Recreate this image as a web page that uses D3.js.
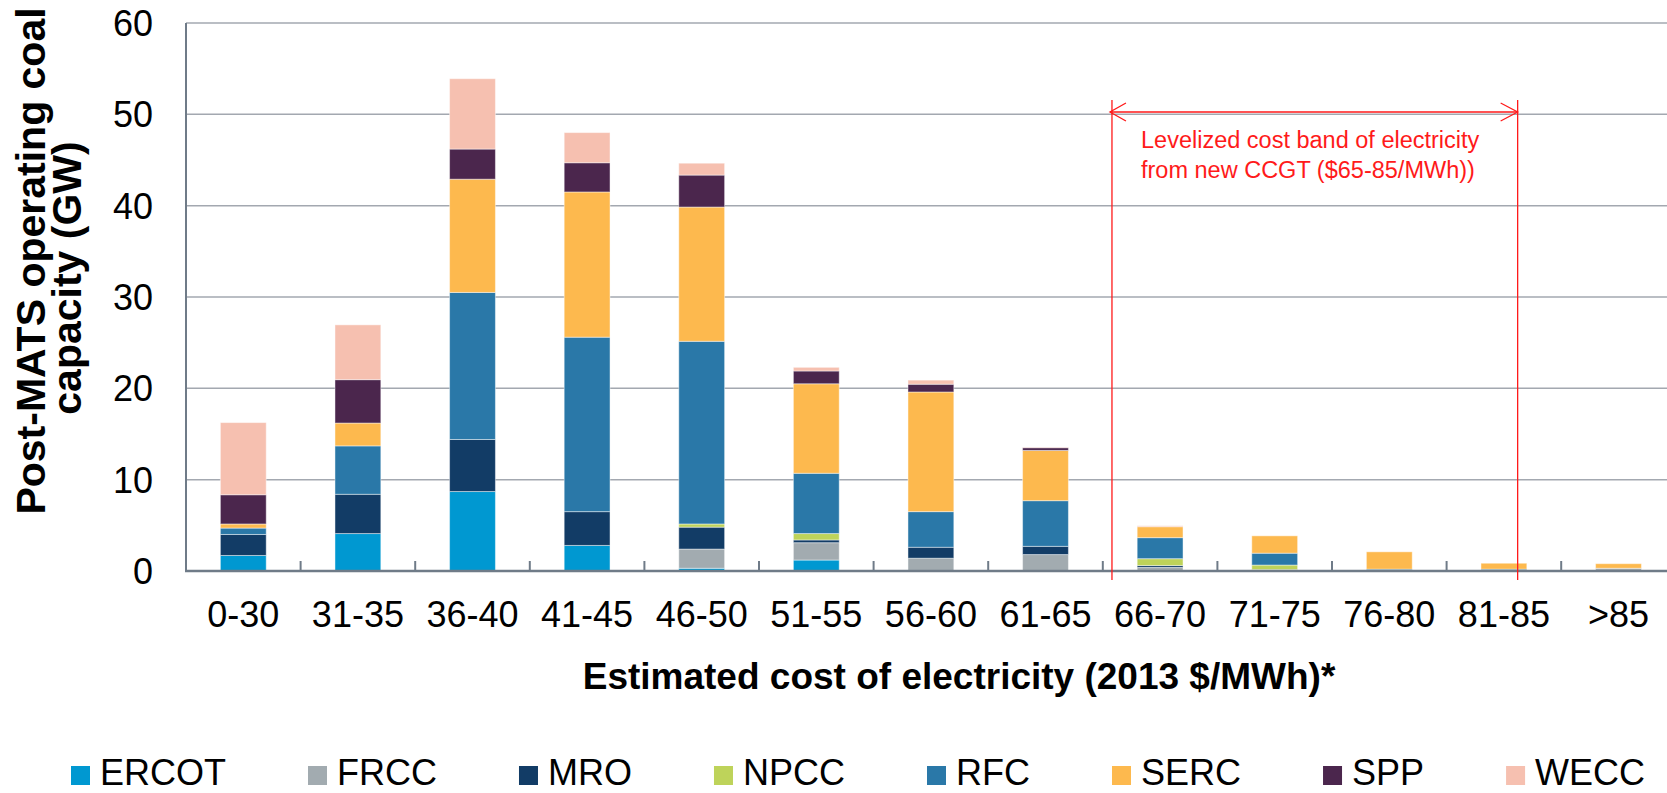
<!DOCTYPE html>
<html><head><meta charset="utf-8">
<script src="https://cdn.jsdelivr.net/npm/d3@7"></script>
<style>
html,body{margin:0;padding:0;background:#fff;}
text{font-family:"Liberation Sans",Arial,sans-serif;}
</style></head>
<body>
<svg id="chart" width="1667" height="793"></svg>
<script>
const categories = ["0-30","31-35","36-40","41-45","46-50","51-55","56-60","61-65","66-70","71-75","76-80","81-85",">85"];
const regions = ["ERCOT","FRCC","MRO","NPCC","RFC","SERC","SPP","WECC"];
const ERCOT = [1.7, 4.1, 8.7, 2.8, 0.3, 1.2, 0, 0, 0, 0, 0, 0, 0];
const FRCC  = [0, 0, 0, 0, 2.1, 1.9, 1.4, 1.8, 0.4, 0.15, 0, 0, 0.3];
const MRO   = [2.3, 4.3, 5.7, 3.7, 2.4, 0.3, 1.2, 0.9, 0.2, 0, 0, 0, 0];
const NPCC  = [0, 0, 0, 0, 0.35, 0.7, 0, 0, 0.75, 0.5, 0, 0, 0];
const RFC   = [0.7, 5.3, 16.1, 19.1, 20.0, 6.6, 3.9, 5.0, 2.3, 1.3, 0.2, 0.2, 0];
const SERC  = [0.45, 2.5, 12.4, 15.9, 14.7, 9.8, 13.1, 5.5, 1.2, 1.9, 1.9, 0.65, 0.5];
const SPP   = [3.2, 4.75, 3.3, 3.2, 3.5, 1.4, 0.85, 0.3, 0, 0, 0, 0, 0];
const WECC  = [7.9, 6.0, 7.7, 3.3, 1.3, 0.4, 0.45, 0.05, 0.1, 0, 0, 0, 0];
const yTicks = [0, 10, 20, 30, 40, 50, 60];
const colors = ["#0098d1","#a2abb0","#123c66","#bed35a","#2a78a8","#fdb94e","#4b264d","#f6c0b0"];
const yTitle = ["Post-MATS operating coal","capacity (GW)"];
const xTitle = "Estimated cost of electricity (2013 $/MWh)*";
const annoText = ["Levelized cost band of electricity","from new CCGT ($65-85/MWh))"];

(function(){
const seriesValues = [ERCOT,FRCC,MRO,NPCC,RFC,SERC,SPP,WECC];
const table = categories.map((c,i)=>{const o={cat:c}; regions.forEach((r,j)=>o[r]=seriesValues[j][i]); return o;});

const svg = d3.select("#chart");
const pL = 186, pR = 186 + 13*114.6, pT = 23, pB = 571;
const x = d3.scaleBand().domain(categories).range([pL,pR]).padding(0);
const y = d3.scaleLinear().domain([0,60]).range([pB,pT]);

// gridlines
svg.append("g").selectAll("line").data(yTicks.filter(d=>d>0)).join("line")
  .attr("x1",pL).attr("x2",pR).attr("y1",d=>y(d)).attr("y2",d=>y(d))
  .attr("stroke","#a3a8b0").attr("stroke-width",1.5);

// y tick labels
svg.append("g").selectAll("text").data(yTicks).join("text")
  .attr("x",153).attr("y",d=>y(d)+13).attr("text-anchor","end")
  .attr("font-size",36).attr("fill","#000").text(d=>d);

// bars
const stack = d3.stack().keys(regions)(table);
const bw = x.bandwidth()*0.4;
svg.append("g").selectAll("g").data(stack).join("g")
  .attr("fill",(d,i)=>colors[i])
  .selectAll("rect").data(d=>d.filter(s=>s[1]-s[0]>0)).join("rect")
  .attr("x",d=>x(d.data.cat)+x.bandwidth()/2-bw/2)
  .attr("width",bw)
  .attr("y",d=>y(d[1]))
  .attr("height",d=>y(d[0])-y(d[1]))
  .attr("stroke","rgba(255,255,255,0.45)").attr("stroke-width",1);

// axes lines
svg.append("line").attr("x1",pL).attr("x2",pL).attr("y1",pT).attr("y2",pB+1)
  .attr("stroke","#6f7b88").attr("stroke-width",2);
svg.append("line").attr("x1",pL-1).attr("x2",pR).attr("y1",pB).attr("y2",pB)
  .attr("stroke","#6f7b88").attr("stroke-width",2.5);
svg.append("g").selectAll("line").data(categories.slice(1)).join("line")
  .attr("x1",d=>x(d)).attr("x2",d=>x(d)).attr("y1",pB).attr("y2",pB-10)
  .attr("stroke","#6f7b88").attr("stroke-width",2);

// x labels
svg.append("g").selectAll("text").data(categories).join("text")
  .attr("x",d=>x(d)+x.bandwidth()/2).attr("y",627).attr("text-anchor","middle")
  .attr("font-size",36).attr("fill","#000").text(d=>d);

// x title
svg.append("text").attr("x",959).attr("y",689).attr("text-anchor","middle")
  .attr("font-size",37).attr("font-weight","bold").text(xTitle);

// y title (two centred lines)
const yCenters = [261, 278];
const yBase = [45, 81];
yTitle.forEach((t,i)=>svg.append("text")
  .attr("transform",`translate(${yBase[i]},${yCenters[i]}) rotate(-90)`)
  .attr("text-anchor","middle").attr("font-size",41).attr("font-weight","bold").text(t));

// annotation
const red = "#ff1a1a";
const ax1 = x("66-70") + x.step()*0.08, ax2 = x("81-85") + x.step()*0.62;
const ay = 112;
[ax1,ax2].forEach(xx=>svg.append("line").attr("x1",xx).attr("x2",xx).attr("y1",100).attr("y2",580)
  .attr("stroke",red).attr("stroke-width",1.3));
svg.append("line").attr("x1",ax1-2).attr("x2",ax2).attr("y1",ay).attr("y2",ay).attr("stroke",red).attr("stroke-width",1.3);
svg.append("path").attr("d",`M${ax1+14},${ay-9}L${ax1-2},${ay}L${ax1+14},${ay+9}`).attr("fill","none").attr("stroke",red).attr("stroke-width",1.3);
svg.append("path").attr("d",`M${ax2-17},${ay-9}L${ax2},${ay}L${ax2-17},${ay+9}`).attr("fill","none").attr("stroke",red).attr("stroke-width",1.3);
annoText.forEach((t,i)=>svg.append("text").attr("x",1141).attr("y",148+i*29.5)
  .attr("font-size",23.5).attr("fill",red).text(t));

// legend
let lx = 71;
regions.forEach((r,i)=>{
  svg.append("rect").attr("x",lx).attr("y",766).attr("width",19).attr("height",19).attr("fill",colors[i]);
  const t = svg.append("text").attr("x",lx+29).attr("y",785).attr("font-size",36).attr("fill","#000").text(r);
  lx += 29 + t.node().getComputedTextLength() + 82;
});
})();
</script>
</body></html>
